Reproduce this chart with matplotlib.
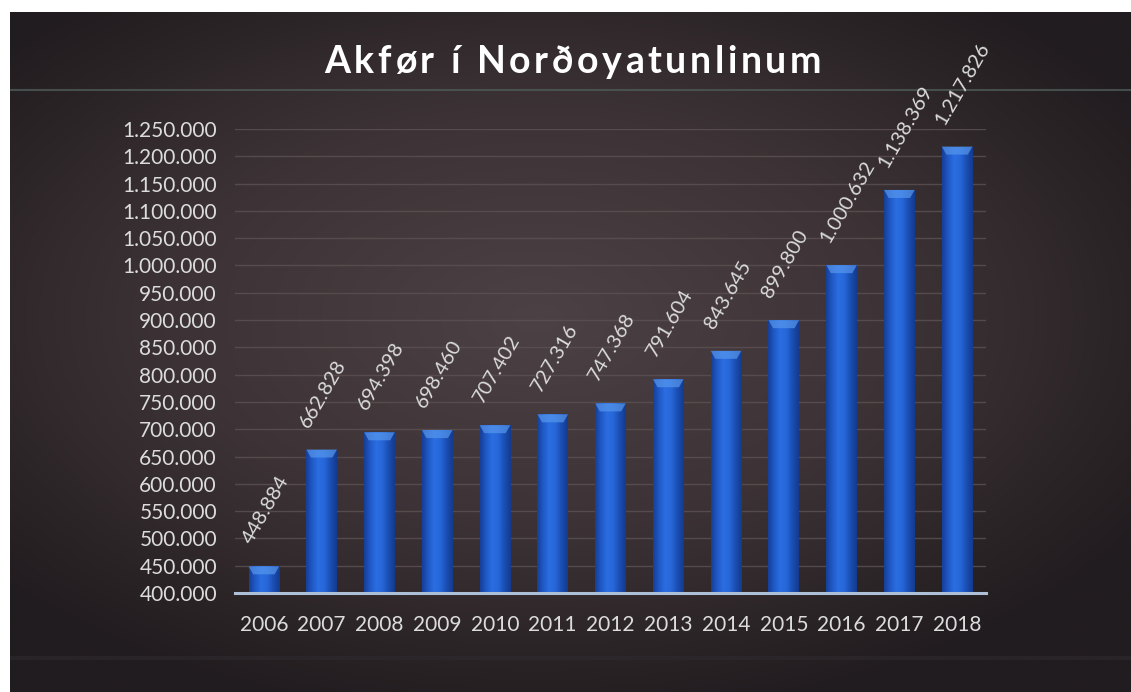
import numpy as np
import matplotlib.pyplot as plt
from matplotlib.colors import LinearSegmentedColormap
from matplotlib.patches import Polygon

years = ['2006', '2007', '2008', '2009', '2010', '2011', '2012',
         '2013', '2014', '2015', '2016', '2017', '2018']
trips = [448884, 662828, 694398, 698460, 707402, 727316, 747368,
         791604, 843645, 899800, 1000632, 1138369, 1217826]
y_min, y_max, y_step = 400000, 1250000, 50000
title = "Akfør í Norðoyatunlinum"

FONT = ['Lato', 'DejaVu Sans']
TXT = '#dcdcdc'


def dots(v):
    return f"{v:,}".replace(",", ".")


fig = plt.figure(figsize=(11.31, 6.92), dpi=100, facecolor='white')

# dark slide background with a soft radial glow
bg = fig.add_axes([10 / 1131, 0, 1 - 10 / 1131, 1 - 12 / 692])
yy, xx = np.mgrid[0:1:300j, 0:1:500j]
r = np.sqrt(((xx - 0.47) / 0.8) ** 2 + ((yy - 0.45) / 0.75) ** 2)
bg_cmap = LinearSegmentedColormap.from_list('bg', ['#4c4144', '#3d3336', '#211c1f'])
bg.imshow(r, cmap=bg_cmap, extent=[0, 1, 0, 1], aspect='auto', origin='upper',
          vmin=0, vmax=0.8, interpolation='bilinear')
bg.axhline(0.885, color='#4d5a57', lw=1.5, alpha=0.8)
bg.axhline(0.05, color='#2e2a2d', lw=3, alpha=0.6)
bg.set_xlim(0, 1)
bg.set_ylim(0, 1)
bg.axis('off')

ax = fig.add_axes([235 / 1131, 99 / 692, 751 / 1131, 464 / 692])
ax.set_facecolor('none')
x = np.arange(len(years))

ticks = list(range(y_min, y_max + 1, y_step))
ax.set_yticks(ticks)
ax.set_yticklabels([dots(t) for t in ticks])
ax.set_xticks(x)
ax.set_xticklabels(years)
ax.grid(axis='y', color='#5c5254', lw=1, alpha=0.8)
ax.set_axisbelow(True)
for s in ['top', 'right', 'left']:
    ax.spines[s].set_visible(False)
ax.spines['bottom'].set_color('#aebfd8')
ax.spines['bottom'].set_linewidth(2.2)
ax.spines['bottom'].set_zorder(5)
ax.tick_params(length=0, colors=TXT, labelsize=15)
ax.tick_params(axis='y', pad=13)
ax.tick_params(axis='x', pad=16)
for lab in ax.get_xticklabels() + ax.get_yticklabels():
    lab.set_family(FONT)

# cylinder-like bars: horizontal shading clipped to each bar
bar_cmap = LinearSegmentedColormap.from_list(
    'bar', ['#163f98', '#205ac8', '#2b6ee2', '#2666d8', '#1b4eb2', '#143b8e'])
shade = np.linspace(0, 1, 64).reshape(1, -1)
w = 0.53
bars = ax.bar(x, [v - y_min for v in trips], bottom=y_min, width=w,
              color='#1f58c4', zorder=2)
units_per_px = (y_max - y_min) / 464
for b, v in zip(bars, trips):
    x0 = b.get_x()
    im = ax.imshow(shade, cmap=bar_cmap, extent=[x0, x0 + w, y_min, v],
                   aspect='auto', zorder=3, interpolation='bilinear')
    im.set_clip_path(b)
    cap_h = 8 * units_per_px
    cap = Polygon([[x0, v], [x0 + w, v], [x0 + w * 0.85, v - cap_h],
                   [x0 + w * 0.15, v - cap_h]], closed=True,
                  facecolor='#5797ec', edgecolor='none', alpha=0.7, zorder=4)
    ax.add_patch(cap)

for i, v in enumerate(trips):
    ax.annotate(dots(v), xy=(i, v), xytext=(-7, 14), textcoords='offset points',
                rotation=60, rotation_mode='anchor', ha='left', va='bottom',
                color=TXT, fontsize=14.5, family=FONT, annotation_clip=False)

ax.set_xlim(-0.5, len(years) - 0.5)
ax.set_ylim(y_min, y_max)

# title with wider letter spacing, laid out one glyph at a time
renderer = fig.canvas.get_renderer()
t_size = 27
target_w, cx, ty = 497, 573 / 1131, 1 - 73 / 692
glyph_w = []
for ch in title:
    probe = fig.text(0, 0, ch if ch != ' ' else 'n', fontsize=t_size,
                     fontweight='bold', family=FONT)
    wpx = probe.get_window_extent(renderer).width
    glyph_w.append(wpx * (0.45 if ch == ' ' else 1))
    probe.remove()
track = (target_w - sum(glyph_w)) / (len(title) - 1)
px = cx * 1131 - target_w / 2
for ch, gw in zip(title, glyph_w):
    if ch != ' ':
        fig.text(px / 1131, ty, ch, fontsize=t_size, fontweight='bold',
                 family=FONT, color='white', ha='left', va='baseline')
    px += gw + track

fig.savefig('out.png', dpi=100, facecolor=fig.get_facecolor())
